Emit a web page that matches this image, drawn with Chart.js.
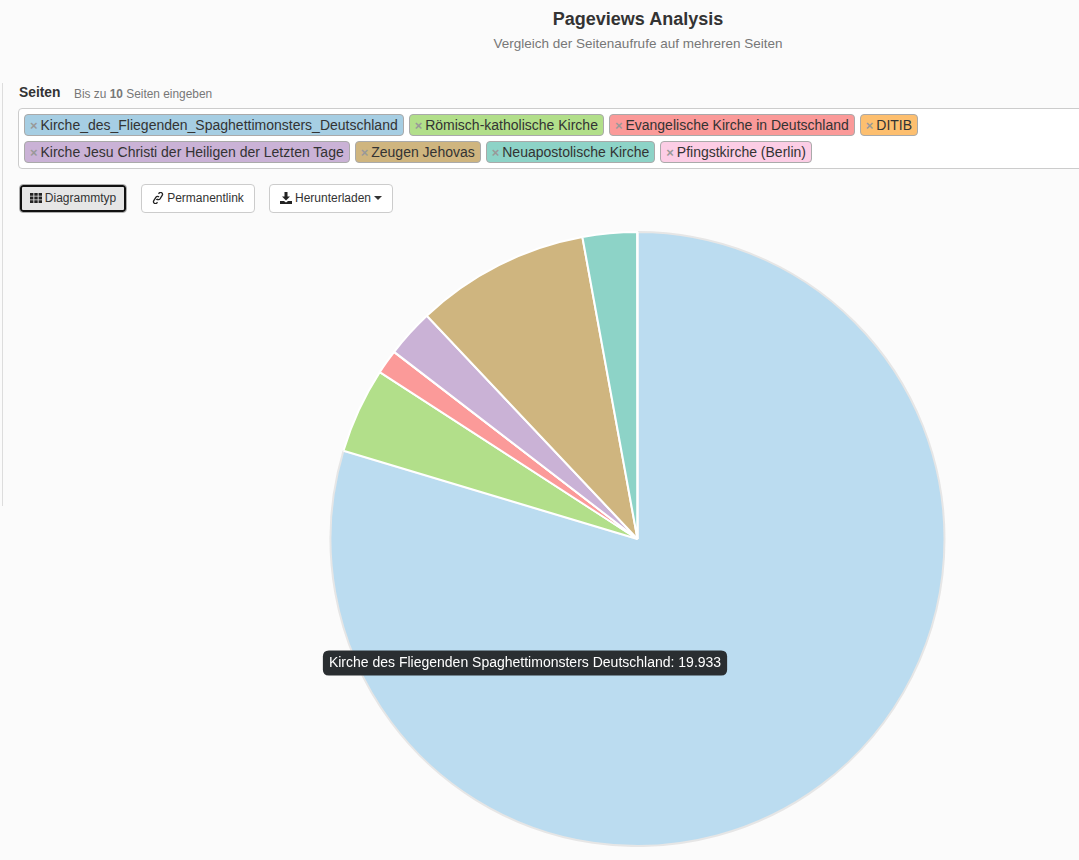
<!DOCTYPE html>
<html lang="de">
<head>
<meta charset="utf-8">
<title>Pageviews Analysis</title>
<script src="https://cdn.jsdelivr.net/npm/chart.js@4"></script>
<style>
    html, body { margin: 0; padding: 0; width: 1079px; height: 860px; overflow: hidden; background: #fbfbfb; }
    body { position: relative; font-family: "Liberation Sans", Arial, sans-serif; color: #333; }
    h1 { position: absolute; left: 198px; width: 880px; top: 9px; margin: 0; text-align: center; font-size: 18px; line-height: 20px; }
    .subtitle { position: absolute; left: 198px; width: 880px; top: 36px; text-align: center; font-size: 13.5px; line-height: 16px; color: #777; }
    .side-line { position: absolute; left: 2px; top: 83px; width: 1px; height: 423px; background: #ddd; }
    .field-label { position: absolute; left: 19px; top: 85px; font-size: 13.8px; line-height: 16px; font-weight: bold; }
    .field-hint { position: absolute; left: 74px; top: 87px; font-size: 11.9px; line-height: 14px; color: #777; }
    .tag-box { position: absolute; left: 18px; top: 108px; width: 1100px; height: 59px; background: #fff; border: 1px solid #ccc; border-radius: 4px; }
    .tag-row { position: absolute; left: 24px; display: flex; gap: 5px; }
    .tag { height: 20px; line-height: 20px; padding: 0 5px 0 5px; border: 1px solid #aaa; border-radius: 4px; font-size: 14px; white-space: nowrap; color: #333; }
    .tag b { color: #999; font-size: 13px; margin-right: 2.9px; }
    .btn { position: absolute; top: 184px; height: 27px; line-height: 27px; border: 1px solid #ccc; border-radius: 4px; background: #fff; font-size: 12px; text-align: center; white-space: nowrap; }
    .btn svg { vertical-align: -2px; margin-right: 3px; }
    .btn.active { background: #e6e6e6; border-color: #adadad; box-shadow: inset 0 0 0 2px #111; }
    .caret { display: inline-block; margin-left: 3px; vertical-align: 2px; border-top: 4px solid #333; border-left: 4px solid transparent; border-right: 4px solid transparent; }
    #chartWrap { position: absolute; left: 0; top: 231px; width: 1079px; height: 616px; }
</style>
</head>
<body>
<h1>Pageviews Analysis</h1>
<div class="subtitle">Vergleich der Seitenaufrufe auf mehreren Seiten</div>
<div class="side-line"></div>
<div class="field-label">Seiten</div>
<div class="field-hint">Bis zu <b>10</b> Seiten eingeben</div>
<div class="tag-box"></div>
<div class="tag-row" id="row1" style="top:114px"></div>
<div class="tag-row" id="row2" style="top:141px"></div>

<div class="btn active" style="left:19px;width:106px">
    <svg width="12" height="12" viewBox="0 0 12 12" fill="#222"><path d="M0 1h3.4v2.8H0zM4.3 1h3.4v2.8H4.300zM8.600 1H12v2.800H8.600zM0 4.600h3.400v2.800H0zM4.300 4.600h3.400v2.800H4.300zM8.600 4.600H12v2.800H8.600zM0 8.200h3.400V11H0zM4.300 8.200h3.400V11H4.300zM8.600 8.200H12V11H8.600z"/></svg>Diagrammtyp
</div>
<div class="btn" style="left:141px;width:112px">
    <svg width="12" height="12" viewBox="0 0 12 12" fill="none" stroke="#222" stroke-width="1.300"><path d="M4.500 8 5 7.200M6.500 1.800 7.200 1a1.900 1.900 0 0 1 3 2.300L8 6.800a1.900 1.900 0 0 1-3 .2M5.500 10.200 4.800 11a1.900 1.900 0 0 1-3-2.300L4 5.200a1.900 1.900 0 0 1 3-.2"/></svg>Permanentlink
</div>
<div class="btn" style="left:269px;width:122px">
    <svg width="12" height="12" viewBox="0 0 12 12" fill="#222"><path d="M4.500 0h3v4.500H10L6 8.500 2 4.500h2.500zM0 9h4l2 1.500L8 9h4v3H0z"/></svg>Herunterladen<span class="caret"></span>
</div>

<div id="chartWrap"><canvas id="pieChart"></canvas></div>

<script>
// values (the tooltip gives the first one exactly)
const pageTitles = [
    "Kirche_des_Fliegenden_Spaghettimonsters_Deutschland",
    "Römisch-katholische Kirche",
    "Evangelische Kirche in Deutschland",
    "DITIB",
    "Kirche Jesu Christi der Heiligen der Letzten Tage",
    "Zeugen Jehovas",
    "Neuapostolische Kirche",
    "Pfingstkirche (Berlin)"
];
const pageviews = [19933, 1126, 320, 4, 632, 2294, 716, 3];
const tagColors = ["#a6cee3", "#b2df8a", "#fb9a99", "#fdbf6f", "#cab2d6", "#cfb57f", "#8dd3c7", "#fccde5"];
const sliceColors = ["#bbdcf0", "#b2df8a", "#fb9a99", "#fdbf6f", "#cab2d6", "#cfb57f", "#8dd3c7", "#fccde5"];
const sliceBorders = ["#e6e6e6", "#ffffff", "#ffffff", "#ffffff", "#ffffff", "#ffffff", "#ffffff", "#ffffff"];
const firstRowCount = 4;

// ---------- TAGS ----------
pageTitles.forEach((title, i) => {
    const tag = document.createElement("div");
    tag.className = "tag";
    tag.style.background = tagColors[i];
    tag.innerHTML = "<b>×</b>" + title;
    document.getElementById(i < firstRowCount ? "row1" : "row2").appendChild(tag);
});

// ---------- PIE CHART ----------
// tooltip sits where the mouse was in the screenshot
Chart.Tooltip.positioners.mouseSpot = function () {
    return { x: 525, y: 432 };
};

const chart = new Chart(document.getElementById("pieChart").getContext("2d"), {
    type: "pie",
    data: {
        labels: pageTitles.map(t => t.replace(/_/g, " ")),
        datasets: [{
            data: pageviews,
            backgroundColor: sliceColors,
            borderColor: sliceBorders,
            borderWidth: 2
        }]
    },
    options: {
        responsive: true,
        maintainAspectRatio: false,
        animation: false,
        events: [],
        layout: { padding: { left: 196 } },
        plugins: {
            legend: { display: false },
            tooltip: {
                position: "mouseSpot",
                xAlign: "center",
                yAlign: "center",
                caretSize: 0,
                cornerRadius: 6,
                padding: { x: 6, y: 4 },
                displayColors: false,
                backgroundColor: "#2a2e31",
                bodyColor: "#fff",
                bodyFont: { family: "'Liberation Sans', Arial, sans-serif", size: 14 },
                callbacks: {
                    title: () => "",
                    label: ctx => ctx.label + ": " + ctx.parsed.toLocaleString("de-DE")
                }
            }
        }
    }
});

chart.tooltip.setActiveElements([{ datasetIndex: 0, index: 0 }], { x: 525, y: 432 });
chart.update();
</script>
</body>
</html>
